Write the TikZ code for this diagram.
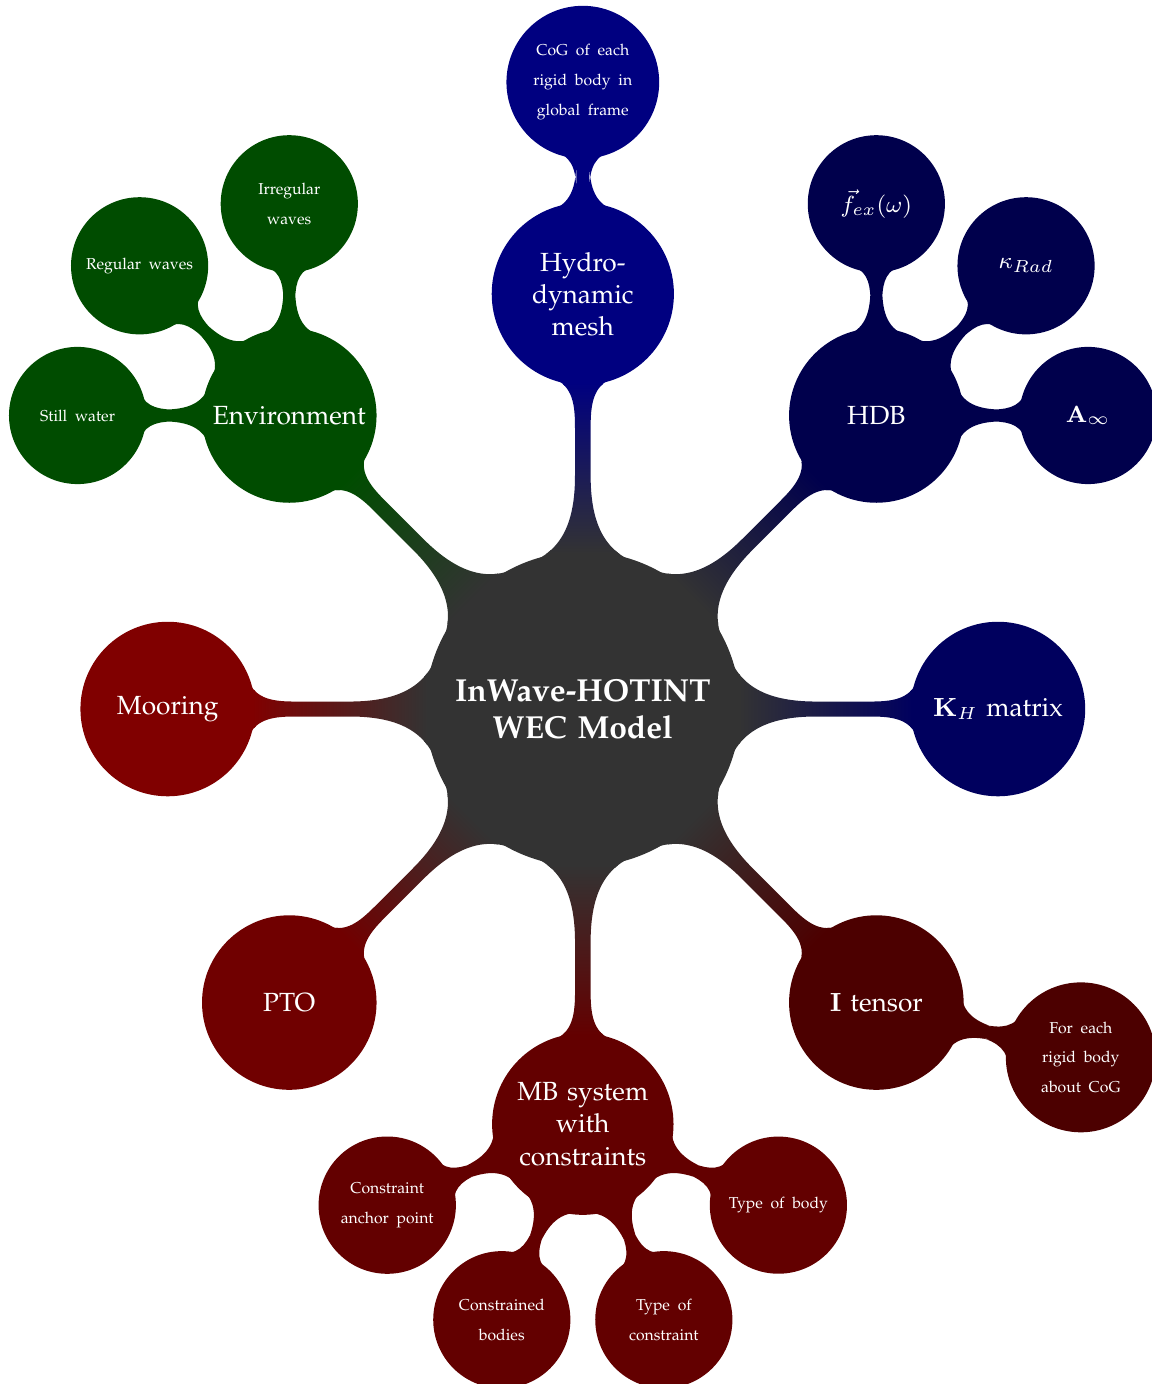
\documentclass[tikz,border=0pt]{standalone}
\usepackage[T1]{fontenc}
\usepackage{palatino}
\usetikzlibrary{mindmap,trees}

% small print inside the outer leaves
\newcommand\leaftext[1]{{\fontsize{5.4}{6}\selectfont #1}}

\begin{document}
\begin{tikzpicture}[mindmap, every node/.style=concept, concept color=black!80, text=white,
  root concept/.append style={minimum size=3.75cm, text width=3.3cm, inner sep=0pt, align=center},
  level 1 concept/.append style={minimum size=2.06cm, text width=1.9cm, inner sep=0pt, align=center, font=\small},
  level 2 concept/.append style={minimum size=1.61cm, text width=1.32cm, inner sep=2pt, align=center,
    font=\fontsize{8}{10.2}\selectfont},
  level 1/.append style={level distance=5cm, sibling angle=45},
  level 2/.append style={level distance=2.55cm, sibling angle=45}]
  \useasboundingbox (-7.02,-8.13) rectangle (6.85,8.54);

  \node[root concept, font=\fontsize{10.9}{12.8}\selectfont\bfseries] (model) {InWave-HOTINT WEC Model} [clockwise from=90]
    child[concept color=blue!50!black] { node (mesh) {Hydro-dynamic mesh} [clockwise from=90]
      child { node (cog) {\leaftext{CoG of each rigid body in global frame}} } }
    child[concept color=blue!30!black] { node (hdb) {HDB} [clockwise from=90]
      child { node (fex) {$\vec{f}_{ex}(\omega)$} }
      child { node (krad) {$\kappa_{Rad}$} }
      child { node (ainf) {$\mathbf{A}_\infty$} } }
    child[concept color=blue!37!black] { node (kh) {$\mathbf{K}_H$ matrix} }
    child[concept color=red!30!black] { node (itens) {$\mathbf{I}$ tensor} [clockwise from=-15]
      child { node (rigid) {\leaftext{For each rigid body about CoG}} } }
    child[concept color=red!39!black] { node (mbs) {MB system with constraints} [clockwise from=-22.5]
      child { node (btype) {\leaftext{Type of body}} }
      child { node (ctype) {\leaftext{Type of constraint}} }
      child { node (cbody) {\leaftext{Constrained bodies}} }
      child { node (anchor) {\leaftext{Constraint anchor point}} } }
    child[concept color=red!44!black] { node (pto) {PTO} }
    child[concept color=red!50!black] { node (moor) {Mooring} }
    child[concept color=green!30!black] { node (env) {Environment} [clockwise from=180]
      child { node (still) {\leaftext{Still water}} }
      child { node (reg) {\leaftext{Regular waves}} }
      child { node (irreg) {\leaftext{Irregular waves}} } };
\end{tikzpicture}
\end{document}
